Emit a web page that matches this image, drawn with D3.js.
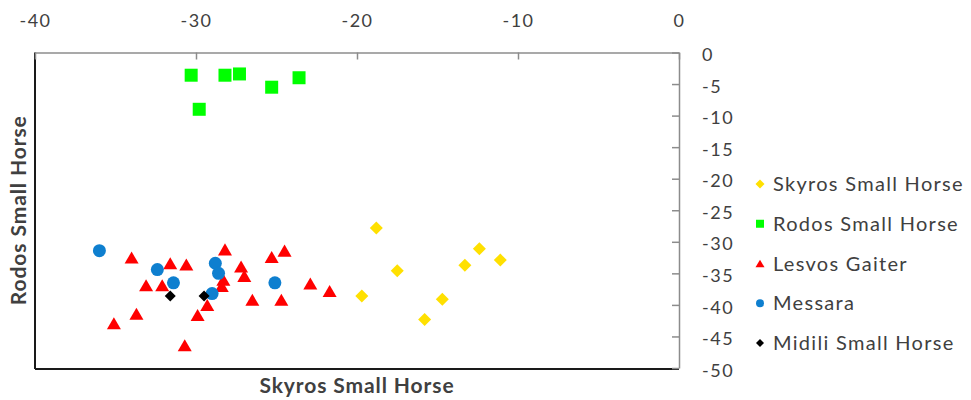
<!DOCTYPE html>
<html>
<head>
<meta charset="utf-8">
<script src="https://cdn.jsdelivr.net/npm/d3@7"></script>
<style>
  html, body { margin: 0; padding: 0; background: #fff; }
  svg { display: block; }
  text { font-family: Lato, "Open Sans", sans-serif; fill: #404040; }
</style>
</head>
<body>
<svg id="chart" width="971" height="400"></svg>
<script>
// ---- data ----
const xTicks = [-40, -30, -20, -10, 0];
const yTicks = [0, -5, -10, -15, -20, -25, -30, -35, -40, -45, -50];

const seriesNames = ["Skyros Small Horse", "Rodos Small Horse", "Lesvos Gaiter", "Messara", "Midili Small Horse"];

const skyrosX = [-18.8, -17.5, -19.7, -15.8, -14.7, -13.3, -12.4, -11.1];
const skyrosY = [-27.8, -34.6, -38.6, -42.3, -39.1, -33.7, -31.1, -32.9];

const rodosX = [-30.3, -29.8, -28.2, -27.3, -25.3, -23.6];
const rodosY = [-3.6, -9.0, -3.6, -3.4, -5.5, -4.0];

const lesvosX = [-34.0, -31.6, -30.6, -33.1, -32.1, -33.7, -35.1, -29.9, -30.7, -29.3, -28.2, -27.2, -27.0, -25.3, -24.5, -28.3, -28.4, -26.5, -24.7, -22.9, -21.7];
const lesvosY = [-32.5, -33.4, -33.6, -36.9, -36.9, -41.4, -42.9, -41.6, -46.4, -40.0, -31.2, -33.9, -35.4, -32.4, -31.4, -36.0, -37.0, -39.2, -39.2, -36.6, -37.8];

const messaraX = [-36.0, -32.4, -31.4, -28.8, -28.6, -29.0, -25.1];
const messaraY = [-31.4, -34.4, -36.5, -33.4, -35.0, -38.2, -36.5];

const midiliX = [-31.6, -29.5];
const midiliY = [-38.6, -38.6];

// ---- layout ----
const svg = d3.select("#chart");
const L = 35, R = 679, T = 52.5, B = 368;
const x = d3.scaleLinear().domain([-40, 0]).range([L, R]);
const y = d3.scaleLinear().domain([0, -50]).range([T, B]);

// custom marker shapes (bounding-box centred)
const sqSym = { draw(ctx, s) { const h = s / 2; ctx.rect(-h, -h, s, s); } };
const diaSym = { draw(ctx, s) { const h = s / 2; ctx.moveTo(0, -h); ctx.lineTo(h, 0); ctx.lineTo(0, h); ctx.lineTo(-h, 0); ctx.closePath(); } };
const triSym = { draw(ctx, s) { const w = s / 2, hh = s * 0.43; ctx.moveTo(0, -hh); ctx.lineTo(w, hh); ctx.lineTo(-w, hh); ctx.closePath(); } };
const cirSym = { draw(ctx, s) { const r = s / 2; ctx.moveTo(r, 0); ctx.arc(0, 0, r, 0, 2 * Math.PI); } };

const series = [
  { name: seriesNames[0], xs: skyrosX, ys: skyrosY, sym: diaSym, size: 13, color: "#FFE000", lsize: 9 },
  { name: seriesNames[1], xs: rodosX, ys: rodosY, sym: sqSym, size: 13, color: "#00FF00", lsize: 8 },
  { name: seriesNames[2], xs: lesvosX, ys: lesvosY, sym: triSym, size: 14, color: "#FF0000", lsize: 9 },
  { name: seriesNames[3], xs: messaraX, ys: messaraY, sym: cirSym, size: 13, color: "#0E7FCF", lsize: 8 },
  { name: seriesNames[4], xs: midiliX, ys: midiliY, sym: diaSym, size: 11, color: "#000000", lsize: 8 }
];

// plot frame: dark left & bottom
svg.append("line").attr("x1", L).attr("x2", L).attr("y1", T).attr("y2", B + 1)
  .attr("stroke", "#1a1a1a").attr("stroke-width", 2);
svg.append("line").attr("x1", L).attr("x2", R).attr("y1", B + 1).attr("y2", B + 1)
  .attr("stroke", "#1a1a1a").attr("stroke-width", 2);

// top x axis
const xAxis = d3.axisTop(x).tickValues(xTicks).tickSizeInner(-7).tickSizeOuter(0).tickFormat(d3.format("d"));
const gx = svg.append("g").attr("transform", `translate(0,${T})`).call(xAxis);
gx.select(".domain").attr("stroke", "#8c8c8c").attr("stroke-width", 1.5);
gx.selectAll(".tick line").attr("stroke", "#8c8c8c").attr("stroke-width", 1.5);
gx.selectAll(".tick text").attr("y", -31).attr("dy", "0.32em")
  .style("font-size", "18px").style("letter-spacing", "1.5px").attr("fill", "#404040")
  .text(d => d3.format("d")(d).replace("−", "-"));

// right y axis
const yAxis = d3.axisRight(y).tickValues(yTicks).tickSizeInner(-7).tickSizeOuter(0);
const gy = svg.append("g").attr("transform", `translate(${R},0)`).call(yAxis);
gy.select(".domain").attr("stroke", "#8c8c8c").attr("stroke-width", 1.5);
gy.selectAll(".tick line").attr("stroke", "#8c8c8c").attr("stroke-width", 1.5);
gy.selectAll(".tick text").attr("x", 23).attr("dy", "0.45em")
  .attr("text-anchor", "start")
  .style("font-size", "18px").style("letter-spacing", "1.5px").attr("fill", "#404040")
  .text(d => d3.format("d")(d).replace("−", "-"));

// points
series.forEach(s => {
  const pts = s.xs.map((v, i) => [v, s.ys[i]]);
  svg.append("g").selectAll("path").data(pts).join("path")
    .attr("transform", d => `translate(${x(d[0])},${y(d[1])})`)
    .attr("d", d3.symbol().type(s.sym).size(s.size))
    .attr("fill", s.color);
});

// axis titles
svg.append("text").attr("x", (L + R) / 2).attr("y", 386).attr("dy", "0.35em")
  .attr("text-anchor", "middle").style("font-size", "21px").style("font-weight", "bold")
  .style("letter-spacing", "0.9px")
  .attr("fill", "#262626").text("Skyros Small Horse");
svg.append("text").attr("transform", `translate(19,${(T + B) / 2}) rotate(-90)`)
  .attr("dy", "0.35em").attr("text-anchor", "middle")
  .style("font-size", "21px").style("font-weight", "bold").style("letter-spacing", "0.9px")
  .attr("fill", "#262626").text("Rodos Small Horse");

// legend
const legY = d3.scalePoint().domain(seriesNames).range([184, 343]);
const lg = svg.append("g");
series.forEach(s => {
  lg.append("path").attr("transform", `translate(760,${legY(s.name)})`)
    .attr("d", d3.symbol().type(s.sym).size(s.lsize)).attr("fill", s.color);
  lg.append("text").attr("x", 773).attr("y", legY(s.name)).attr("dy", "0.35em")
    .style("font-size", "20px").style("letter-spacing", "1.3px").attr("fill", "#404040").text(s.name);
});
</script>
</body>
</html>
